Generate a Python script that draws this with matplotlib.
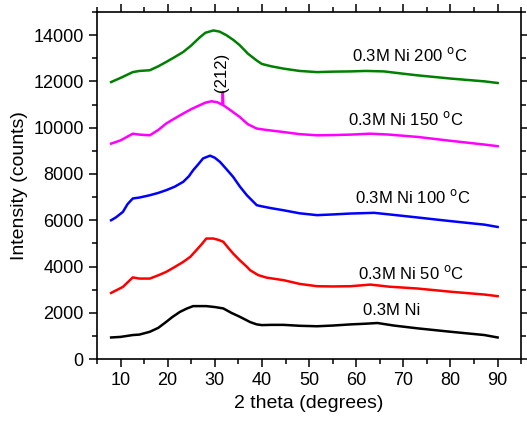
import matplotlib
matplotlib.use("Agg")
import matplotlib.pyplot as plt
from matplotlib.ticker import MultipleLocator

plt.rcParams["font.family"] = ["Liberation Sans", "DejaVu Sans"]

# XRD patterns: (2 theta, counts) for each sample
tt_0 = [8, 10, 12.6, 14, 16.2, 18, 19.7, 21, 22.6, 24, 25.4, 28.2, 30, 31.8, 33.5, 35.3, 37.5, 38.9,
        40, 42, 44.6, 48, 51.7, 55, 58.8, 62, 64.5, 68, 73, 80.1, 87.2, 90]
ni_0 = [935, 960, 1040, 1060, 1180, 1350, 1610, 1820, 2040, 2180, 2290, 2290, 2250, 2190, 2000, 1830, 1600, 1500,
        1470, 1480, 1480, 1440, 1420, 1450, 1500, 1530, 1560, 1450, 1330, 1180, 1040, 935]

tt_50 = [8, 10.5, 12.6, 14, 16.2, 18, 19.7, 21.5, 23.3, 24.8, 26.1, 27.2, 28.2, 29.7, 30.8, 31.8, 32.8,
         33.9, 35.3, 36.8, 37.5, 39.2, 41, 44.6, 48, 51.7, 55, 58.8, 63, 67, 73, 80.1, 87.2, 90]
ni_50 = [2860, 3120, 3530, 3480, 3480, 3620, 3770, 3980, 4200, 4420, 4710, 4960, 5210, 5210, 5150, 5070, 4820,
         4560, 4270, 3990, 3840, 3630, 3520, 3410, 3250, 3150, 3140, 3150, 3220, 3130, 3050, 2910, 2790, 2720]

tt_100 = [8, 9, 10.5, 11.5, 12.6, 14, 16.2, 18, 19.7, 21.5, 23.3, 24.5, 25.4, 26.5, 27.5, 29, 30, 31.1,
          32.5, 33.9, 35.3, 36.8, 38.9, 40, 42, 44.6, 48, 51.7, 55, 58.8, 63.8, 68, 73, 80.1, 87.2, 90]
ni_100 = [6000, 6120, 6360, 6700, 6940, 6980, 7080, 7180, 7300, 7450, 7660, 7900, 8160, 8420, 8670, 8790, 8700, 8520,
          8200, 7870, 7460, 7080, 6650, 6600, 6520, 6430, 6300, 6220, 6250, 6290, 6320, 6230, 6120, 5960, 5810, 5710]

tt_150 = [8, 10, 12.6, 14, 16.2, 18, 19.7, 21.5, 23.3, 25, 26.8, 28, 29.3, 30.5, 31.6, 31.7, 31.8, 33,
          35.3, 37, 38.9, 41, 44.6, 48, 51.7, 55, 58.8, 63, 67, 73, 80.1, 87.2, 90]
ni_150 = [9310, 9450, 9740, 9700, 9670, 9900, 10180, 10400, 10610, 10800, 10970, 11080, 11140, 11100, 10990, 11540, 10970, 10800,
          10460, 10150, 9960, 9900, 9810, 9720, 9670, 9680, 9700, 9740, 9700, 9600, 9430, 9270, 9200]

tt_200 = [8, 10, 12.6, 14, 16.2, 18, 19.7, 21.5, 23.3, 25, 26.8, 28, 29.7, 31, 32.5, 34, 35.3, 37,
          38.9, 40, 42, 44.6, 48, 51.7, 55, 58.8, 62, 65.9, 70, 73, 80.1, 87.2, 90]
ni_200 = [11970, 12150, 12400, 12450, 12480, 12650, 12840, 13050, 13270, 13550, 13900, 14100, 14200, 14150, 13990, 13780, 13560, 13200,
          12900, 12750, 12650, 12550, 12450, 12400, 12420, 12430, 12450, 12430, 12330, 12260, 12120, 12000, 11930]

samples = [(tt_0, ni_0, "black"), (tt_50, ni_50, "red"), (tt_100, ni_100, "blue"),
           (tt_150, ni_150, "magenta"), (tt_200, ni_200, "green")]
labels = ["0.3M Ni", "0.3M Ni 50 $^{\\mathrm{o}}$C", "0.3M Ni 100 $^{\\mathrm{o}}$C",
          "0.3M Ni 150 $^{\\mathrm{o}}$C", "0.3M Ni 200 $^{\\mathrm{o}}$C"]
label_pos = [(67.6, 2120), (71.7, 3740), (71.9, 7010), (70.6, 10390), (71.3, 13130)]

fig, ax = plt.subplots(figsize=(5.27, 4.26), dpi=100)
fig.subplots_adjust(left=0.184, right=0.989, top=0.972, bottom=0.157)

for x, y, c in samples:
    ax.plot(x, y, color=c, lw=1.8)

for lab, (x, y) in zip(labels, label_pos):
    ax.text(x, y, lab, ha="center", va="center", fontsize=12)

ax.text(31.5, 12370, "(212)", rotation=90, ha="center", va="center", fontsize=12)

ax.set_xlim(5, 95)
ax.set_ylim(0, 15000)
ax.xaxis.set_major_locator(MultipleLocator(10))
ax.xaxis.set_minor_locator(MultipleLocator(5))
ax.yaxis.set_major_locator(MultipleLocator(2000))
ax.yaxis.set_minor_locator(MultipleLocator(1000))
ax.tick_params(which="both", direction="out", top=True, right=True, width=1.1, labelsize=13)
ax.tick_params(which="major", length=6)
ax.tick_params(which="minor", length=3.5)
for s in ax.spines.values():
    s.set_linewidth(1.2)

ax.set_xlabel("2 theta (degrees)", fontsize=14)
ax.set_ylabel("Intensity (counts)", fontsize=14)

plt.savefig("out.png", dpi=100)
